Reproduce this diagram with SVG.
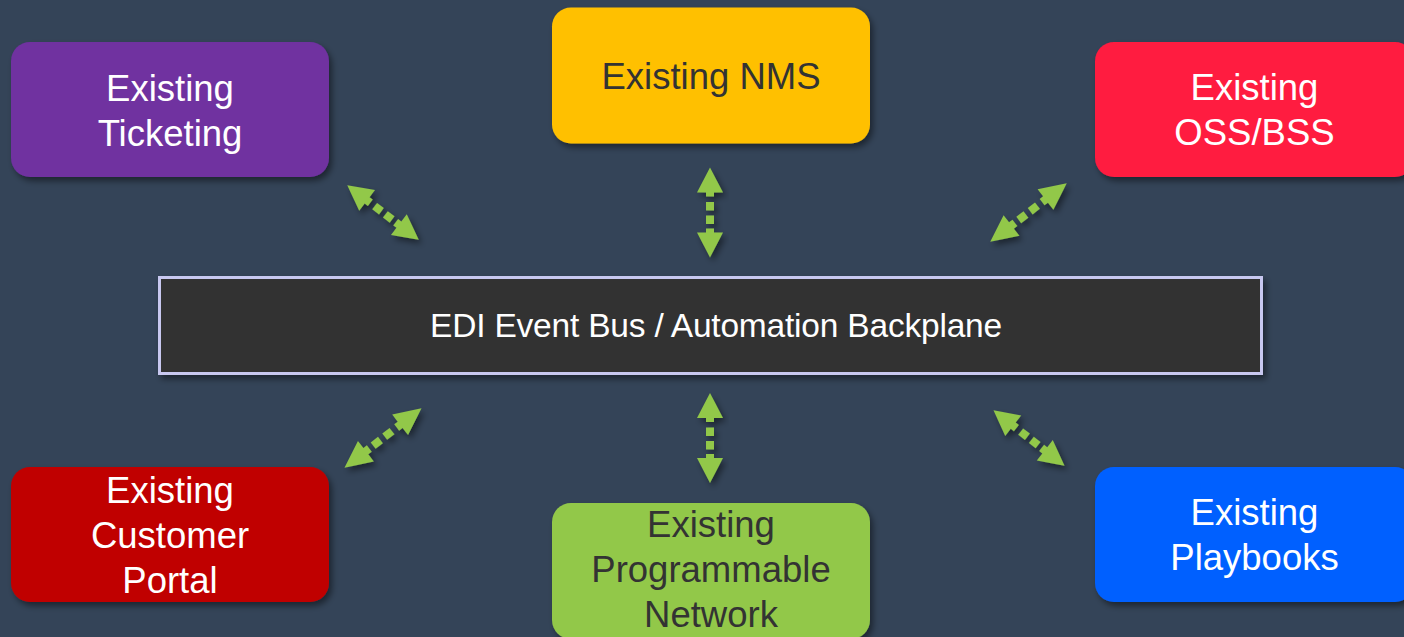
<svg xmlns="http://www.w3.org/2000/svg" xmlns:xlink="http://www.w3.org/1999/xlink" width="1404" height="637" viewBox="0 0 1404 637">
  <style>
    .box { stroke: none; }
    .lbl { font-family: "Liberation Sans", Arial, sans-serif; font-size: 36.5px; text-anchor: middle; }
    .light { fill: #ffffff; }
    .dark { fill: #333333; }
    .bus-lbl { font-family: "Liberation Sans", Arial, sans-serif; font-size: 33.5px; text-anchor: middle; fill: #ffffff; letter-spacing: -0.2px; }
    .arrow { fill: #92C84A; }
  </style>
  <defs>
    <filter id="shadow" x="-20%" y="-20%" width="140%" height="140%">
      <feDropShadow dx="3" dy="4" stdDeviation="3" flood-color="#000000" flood-opacity="0.45"/>
    </filter>
    <!-- double-headed dotted arrow, drawn vertically and centred on the origin -->
    <g id="dblArrow" class="arrow">
      <polygon points="0,-45 13,-20 4,-20 4,-16 -4,-16 -4,-20 -13,-20"/>
      <rect x="-4" y="-10.5" width="8" height="8.5"/>
      <rect x="-4" y="3" width="8" height="8.5"/>
      <polygon points="0,45 13,20 4,20 4,16 -4,16 -4,20 -13,20"/>
    </g>
  </defs>

  <rect x="0" y="0" width="1404" height="637" fill="#344458"/>

  <!-- connectors between the bus and the surrounding systems -->
  <g id="connectors">
    <g filter="url(#shadow)"><use xlink:href="#dblArrow" transform="translate(383,212.5) rotate(-52.6)"/></g>
    <g filter="url(#shadow)"><use xlink:href="#dblArrow" transform="translate(710,212.5)"/></g>
    <g filter="url(#shadow)"><use xlink:href="#dblArrow" transform="translate(1028.5,212.5) rotate(52.6) scale(1,1.07)"/></g>
    <g filter="url(#shadow)"><use xlink:href="#dblArrow" transform="translate(383,438) rotate(52.4) scale(1,1.08)"/></g>
    <g filter="url(#shadow)"><use xlink:href="#dblArrow" transform="translate(710,438)"/></g>
    <g filter="url(#shadow)"><use xlink:href="#dblArrow" transform="translate(1029,438) rotate(-52.1)"/></g>
  </g>

  <!-- central event bus -->
  <g id="bus">
    <rect x="159.5" y="277.5" width="1102" height="96" fill="#333333" stroke="#C8C8F0" stroke-width="3" filter="url(#shadow)"/>
    <text class="bus-lbl" x="716" y="337">EDI Event Bus / Automation Backplane</text>
  </g>

  <g id="ticketing">
    <rect class="box" x="11" y="42" width="318" height="135" rx="19" fill="#7030A0" filter="url(#shadow)"/>
    <text class="lbl light" x="170" y="101">Existing</text>
    <text class="lbl light" x="170" y="146">Ticketing</text>
  </g>

  <g id="nms">
    <rect class="box" x="552" y="7.5" width="318" height="136" rx="19" fill="#FFC000" filter="url(#shadow)"/>
    <text class="lbl dark" x="711" y="89">Existing NMS</text>
  </g>

  <g id="oss-bss">
    <rect class="box" x="1095" y="42" width="319" height="135" rx="19" fill="#FF1A40" filter="url(#shadow)"/>
    <text class="lbl light" x="1254.5" y="100">Existing</text>
    <text class="lbl light" x="1254.5" y="145">OSS/BSS</text>
  </g>

  <g id="customer-portal">
    <rect class="box" x="11" y="467" width="318" height="135" rx="19" fill="#C00000" filter="url(#shadow)"/>
    <text class="lbl light" x="170" y="503">Existing</text>
    <text class="lbl light" x="170" y="548">Customer</text>
    <text class="lbl light" x="170" y="593">Portal</text>
  </g>

  <g id="programmable-network">
    <rect class="box" x="552" y="503" width="318" height="136" rx="19" fill="#92C84A" filter="url(#shadow)"/>
    <text class="lbl dark" x="711" y="537">Existing</text>
    <text class="lbl dark" x="711" y="582">Programmable</text>
    <text class="lbl dark" x="711" y="627">Network</text>
  </g>

  <g id="playbooks">
    <rect class="box" x="1095" y="467" width="319" height="135" rx="19" fill="#0060FF" filter="url(#shadow)"/>
    <text class="lbl light" x="1254.5" y="525">Existing</text>
    <text class="lbl light" x="1254.5" y="570">Playbooks</text>
  </g>
</svg>
